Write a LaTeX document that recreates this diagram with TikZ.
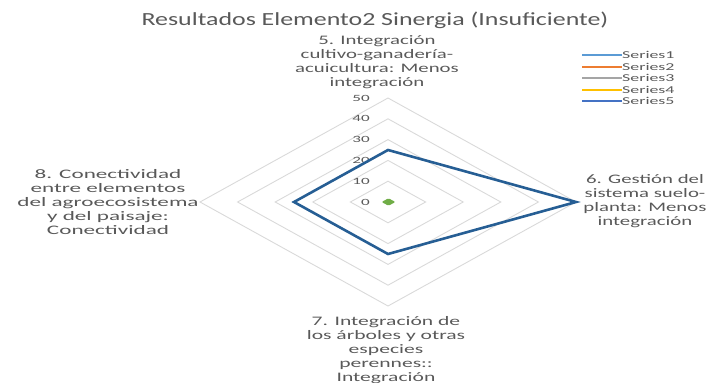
\documentclass[tikz,border=0pt]{standalone}
\usepackage{fontspec}
\setmainfont{Carlito}
\newfontfamily\titlef[FakeStretch=1.4]{Carlito}
\newfontfamily\labf[FakeStretch=1.6]{Carlito}
\newfontfamily\labwf[FakeStretch=1.78]{Carlito}
\newfontfamily\labbf[FakeStretch=1.66]{Carlito}
\newfontfamily\legf[FakeStretch=1.7]{Carlito}
\newfontfamily\tickf[FakeStretch=1.8]{Carlito}
\definecolor{txt}{HTML}{595959}
\definecolor{gridc}{HTML}{D9D9D9}
\definecolor{sA}{HTML}{5B9BD5}
\definecolor{sB}{HTML}{ED7D31}
\definecolor{sC}{HTML}{A5A5A5}
\definecolor{sD}{HTML}{FFC000}
\definecolor{sE}{HTML}{4472C4}
\definecolor{plotline}{RGB}{38,94,148}
\definecolor{greenmk}{HTML}{70AD47}
\begin{document}
\begin{tikzpicture}[x=1pt,y=-1pt,
  axislab/.style={text=txt, align=center, inner sep=0pt, font=\labf\fontsize{13}{14}\selectfont},
  ticklab/.style={text=txt, anchor=east, inner sep=0pt, font=\tickf\fontsize{9.5}{11}\selectfont},
  leglab/.style={text=txt, anchor=west, inner sep=0pt, font=\legf\fontsize{10.5}{12}\selectfont},
  gridline/.style={draw=gridc, line width=0.9pt},
  legline/.style={line width=2pt},
  series/.style={draw=plotline, line width=2.6pt, line join=miter}]
\useasboundingbox (0,0) rectangle (726,383);
\clip (0,0) rectangle (726,383);
% title
\node[text=txt, inner sep=0pt, font=\titlef\fontsize{18.5}{20}\selectfont] (title) at (375,20) {Resultados Elemento2 Sinergia (Insuficiente)};
% grid rings
\foreach \v in {10,20,30,40,50}{
  \draw[gridline] ({388+3.76*\v},202) -- (388,{202+2.08*\v}) -- ({388-3.76*\v},202) -- (388,{202-2.08*\v}) -- cycle;
}
% tick labels
\foreach \v in {0,10,20,30,40,50}{
  \node[ticklab] (t\v) at (370,{202-2.08*\v}) {\v};
}
% series 5
\coordinate (p5) at (388,{202-2.08*25});
\coordinate (p6) at ({388+3.76*50},202);
\coordinate (p7) at (388,{202+2.08*25});
\coordinate (p8) at ({388-3.76*25},202);
\draw[series] (p5) -- (p6) -- (p7) -- (p8) -- cycle;
% green marker
\fill[greenmk, rounded corners=1.2pt] (381.5,202) -- (388.5,198.3) -- (395.5,202) -- (388.5,205.7) -- cycle;
% axis labels
\node[axislab] (a5) at (377,62) {5. Integración\\cultivo-ganadería-\\acuicultura: Menos\\integración};
\node[axislab] (a6) at (645,201.5) {6. Gestión del\\sistema suelo-\\planta: Menos\\integración};
\node[axislab, font=\labbf\fontsize{13}{14}\selectfont] (a7) at (386,350) {7. Integración de\\los árboles y otras\\especies\\perennes::\\Integración};
\node[axislab, font=\labwf\fontsize{13}{14}\selectfont] (a8) at (108,202) {8. Conectividad\\entre elementos\\del agroecosistema\\y del paisaje:\\Conectividad};
% legend
\foreach \i/\c in {1/sA,2/sB,3/sC,4/sD,5/sE}{
  \coordinate (l\i a) at (582,{55+11.5*(\i-1)});
  \coordinate (l\i b) at (622,{55+11.5*(\i-1)});
  \draw[legline, draw=\c] (l\i a) -- (l\i b);
  \node[leglab] (lt\i) at (l\i b) {Series\i};
}
\end{tikzpicture}
\end{document}
